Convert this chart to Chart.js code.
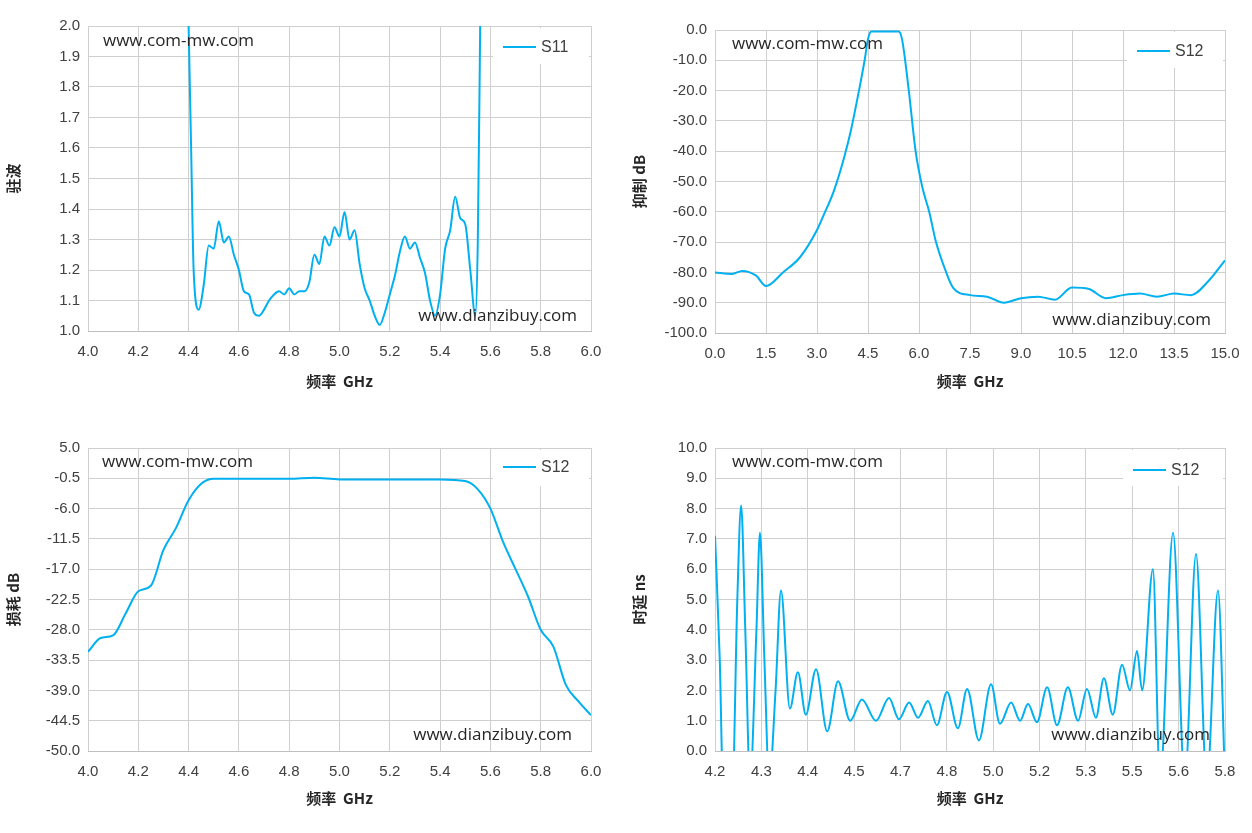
<!DOCTYPE html>
<html><head><meta charset="utf-8">
<script src="https://cdn.jsdelivr.net/npm/chart.js@4"></script>
<style>
body{margin:0;background:#fff;width:1252px;height:833px;position:relative;overflow:hidden}
.c{position:absolute;width:626px;height:416px}
</style></head><body>
<div class="c" style="left:0;top:0"><canvas id="c1"></canvas></div>
<div class="c" style="left:626px;top:0"><canvas id="c2"></canvas></div>
<div class="c" style="left:0;top:416px;height:417px"><canvas id="c3"></canvas></div>
<div class="c" style="left:626px;top:416px;height:417px"><canvas id="c4"></canvas></div>
<script>
// S11 VSWR
const vswrF=[4.4,4.41,4.42,4.44,4.46,4.48,4.50,4.52,4.54,4.56,4.58,4.60,4.62,4.64,4.66,4.68,4.70,4.72,4.74,4.76,4.78,4.80,4.82,4.84,4.86,4.88,4.90,4.92,4.94,4.96,4.98,5.0,5.02,5.04,5.06,5.08,5.10,5.12,5.14,5.16,5.18,5.20,5.22,5.24,5.26,5.28,5.30,5.32,5.34,5.36,5.38,5.40,5.42,5.44,5.46,5.48,5.50,5.52,5.54,5.55,5.56];
const vswrV=[2.0,1.6,1.2,1.07,1.15,1.28,1.27,1.36,1.29,1.31,1.25,1.2,1.13,1.12,1.06,1.05,1.07,1.1,1.12,1.13,1.12,1.14,1.12,1.13,1.13,1.16,1.25,1.22,1.31,1.28,1.34,1.31,1.39,1.3,1.33,1.22,1.14,1.1,1.05,1.02,1.06,1.12,1.18,1.26,1.31,1.27,1.29,1.24,1.19,1.1,1.05,1.12,1.27,1.33,1.44,1.37,1.35,1.2,1.05,1.3,2.05];
// S12 rejection
const rejF=[0,0.5,0.8,1.2,1.5,2,2.5,3,3.2,3.5,3.8,4.0,4.2,4.4,4.5,4.6,5.0,5.4,5.5,5.7,5.9,6.1,6.3,6.5,6.8,7.0,7.5,8,8.5,9,9.5,10,10.5,11,11.5,12,12.5,13,13.5,14,14.5,15];
const rejV=[-80,-80.5,-79.5,-81,-84.5,-80,-75,-66,-61,-53,-42,-33,-22,-10,-3,-0.5,-0.5,-0.5,-3,-20,-40,-52,-60,-70,-80,-85,-87.5,-88,-90,-88.5,-88,-89,-85,-85.5,-88.5,-87.5,-87,-88,-87,-87.5,-83,-76];
// S12 insertion loss
const ilF=[4.0,4.05,4.1,4.15,4.2,4.25,4.3,4.35,4.4,4.45,4.5,4.6,4.8,4.9,5.0,5.2,5.4,5.5,5.55,5.6,5.65,5.7,5.75,5.8,5.85,5.9,5.95,6.0];
const ilV=[-32,-29.5,-29,-25,-21,-20,-13.5,-9.5,-4.5,-1.5,-0.6,-0.6,-0.6,-0.4,-0.7,-0.7,-0.7,-1.0,-2.5,-6,-12,-17,-22,-28,-31,-38,-41,-43.5];
// S12 group delay
const gdF=[4.2,4.215,4.225,4.255,4.27,4.282,4.295,4.31,4.33,4.341,4.355,4.37,4.39,4.407,4.435,4.46,4.485,4.517,4.552,4.586,4.624,4.661,4.705,4.746,4.777,4.809,4.837,4.868,4.896,4.928,4.962,4.991,5.028,5.066,5.094,5.129,5.157,5.182,5.21,5.242,5.273,5.307,5.339,5.367,5.395,5.42,5.448,5.477,5.502,5.524,5.54,5.574,5.596,5.637,5.674,5.709,5.743,5.778,5.8];
const gdV=[7.1,3,-1,-1,5,8.1,4,-1,4,7.2,3,-1,2,5.3,1.4,2.6,1.2,2.7,0.65,2.3,1.0,1.7,1.0,1.75,1.05,1.6,1.1,1.65,0.85,1.95,0.75,2.05,0.35,2.2,0.9,1.6,1.0,1.55,0.95,2.1,0.85,2.1,1.0,2.05,1.1,2.4,1.2,2.85,2.0,3.3,2.0,6.0,-1,7.2,-1,6.5,-1,5.3,-1];
const gdLabels=['4.2','4.3','4.4','4.5','4.7','4.8','5.0','5.2','5.3','5.5','5.6','5.8'];

const FONT='"Noto Sans CJK SC"';
const TICK={size:15,family:'"Liberation Sans"'};
const TC='#404040';
function pts(f,v){return f.map((x,i)=>({x:x,y:v[i]}));}
function mk(id,o){
  const deco={id:'deco',
    afterDraw(ch){
      const c=ch.ctx,a=ch.chartArea;c.save();
      c.fillStyle='#fff';c.fillRect(a.left+o.lg[0]-10,a.top+2,a.right-a.left-o.lg[0]+8,36);
      c.strokeStyle='#00b0f0';c.lineWidth=2;c.beginPath();
      c.moveTo(a.left+o.lg[0],a.top+o.lg[1]);c.lineTo(a.left+o.lg[0]+33,a.top+o.lg[1]);c.stroke();
      c.fillStyle='#404040';c.font='16px "Liberation Sans"';c.textBaseline='middle';
      c.fillText(o.name,a.left+o.lg[0]+38,a.top+o.lg[1]+1);
      c.font='17px "Open Sans"';c.fillStyle='#262626';
      c.fillText('www.com-mw.com',a.left+o.w1[0],a.top+o.w1[1]);
      c.textAlign='right';
      c.fillText('www.dianzibuy.com',a.left+o.w2[0],a.top+o.w2[1]);
      c.restore();
    }};
  return new Chart(document.getElementById(id),{type:'line',
    data:{datasets:[{data:o.data,borderColor:'#00b0f0',borderWidth:2,pointRadius:0,tension:0.4,cubicInterpolationMode:'monotone',clip:o.clip===undefined?0:o.clip}]},
    options:{responsive:true,maintainAspectRatio:false,animation:false,
      layout:{padding:o.pad},
      plugins:{legend:{display:false},tooltip:{enabled:false}},
      scales:{
        x:{type:'linear',min:o.x[0],max:o.x[1],
          afterFit(s){s.height=o.xh;},
          afterBuildTicks:o.xt?function(s){s.ticks=o.xt.map(v=>({value:v}));}:undefined,
          ticks:{stepSize:o.x[2],color:TC,font:TICK,padding:12,maxRotation:0,autoSkip:false,callback:o.xcb||(v=>v.toFixed(1))},
          grid:{color:'#cfcfcf',drawTicks:false,lineWidth:1},border:{color:'#bfbfbf'},
          title:{display:true,text:'频率  GHz',color:'#262626',font:{family:FONT,size:15,weight:'bold'}}},
        y:{min:o.y[0],max:o.y[1],
          afterFit(s){s.width=o.yw;},
          afterBuildTicks(s){const t=[];for(let v=o.y[0];v<=o.y[1]+1e-9;v+=o.y[2])t.push({value:+v.toFixed(3)});s.ticks=t;},
          ticks:{color:TC,font:TICK,padding:8,callback:v=>v.toFixed(1)},
          grid:{color:'#cfcfcf',drawTicks:false},border:{display:false},
          title:{display:true,text:o.yt,color:'#262626',font:{family:FONT,size:15,weight:'bold'}}}
      }},
    plugins:[deco]});
}
mk('c1',{data:pts(vswrF,vswrV),x:[4,6,0.2],y:[1,2,0.1],yw:88,xh:63,pad:{top:26,right:35,bottom:22,left:0},
  yt:'驻波',name:'S11',lg:[415,21],w1:[15,15],w2:[489,290],clip:{left:0,right:0,top:0,bottom:5}});
mk('c2',{data:pts(rejF,rejV),x:[0,15,1.5],y:[-100,0,10],yw:89,xh:61,pad:{top:30,right:27,bottom:22,left:0},
  yt:'抑制 dB',name:'S12',lg:[422,21],w1:[17,14],w2:[496,290]});
mk('c3',{data:pts(ilF,ilV),x:[4,6,0.2],y:[-50,5,5.5],yw:88,xh:60,pad:{top:32,right:35,bottom:22,left:0},
  yt:'损耗 dB',name:'S12',lg:[415,19],w1:[14,14],w2:[484,287]});
const gdPos=gdLabels.map((l,i)=>4.2+i*1.6/11);
mk('c4',{data:pts(gdF,gdV),x:[4.2,5.8,0.1],y:[0,10,1],yw:89,xh:60,pad:{top:32,right:27,bottom:22,left:0},
  xt:gdPos,xcb:function(v,i){return gdLabels[i];},
  yt:'时延 ns',name:'S12',lg:[418,22],w1:[17,14],w2:[495,287],clip:{left:0,right:0,top:0,bottom:0}});
</script>
</body></html>
